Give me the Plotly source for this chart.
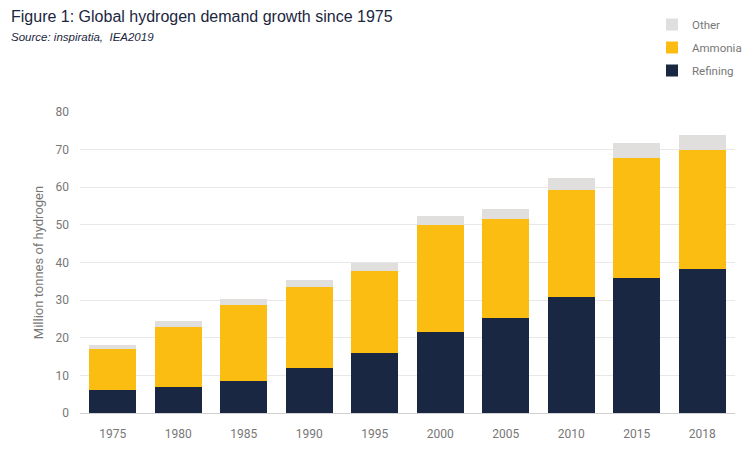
import plotly.graph_objects as go

years = ["1975", "1980", "1985", "1990", "1995", "2000", "2005", "2010", "2015", "2018"]
refining = [6.2, 6.9, 8.5, 12.0, 15.9, 21.4, 25.2, 30.9, 36.0, 38.3]
ammonia = [10.8, 16.0, 20.1, 21.5, 21.9, 28.6, 26.3, 28.5, 31.9, 31.5]
other = [1.1, 1.6, 1.8, 1.8, 2.1, 2.4, 2.6, 3.1, 3.9, 4.2]
y_ticks = [0, 10, 20, 30, 40, 50, 60, 70, 80]

# page is rendered with an 8px body margin; size the figure so it fills the window
OFF = 8
W, H = 750 - OFF, 450 - OFF
L, R, T, B = 80 - OFF, 15, 112 - OFF, 37
pw = W - L - R
ph = H - T - B

def px_x(x):  # page pixel -> paper coord
    return (x - OFF - L) / pw

def px_y(y):
    return 1 + (T - (y - OFF)) / ph

fig = go.Figure()
fig.add_trace(go.Bar(x=years, y=refining, name="Refining", legendgroup="r", legendrank=3,
                     marker_color="#1a2743", marker_line_width=0))
fig.add_trace(go.Bar(x=years, y=ammonia, name="Ammonia", legendgroup="a", legendrank=2,
                     marker_color="#fcbd12", marker_line_width=0))
fig.add_trace(go.Bar(x=years, y=other, name="Other", legendgroup="o", legendrank=1,
                     marker_color="#e1dfdd", marker_line_width=0))

fig.update_layout(
    width=W, height=H,
    barmode="stack", bargap=0.28,
    plot_bgcolor="white", paper_bgcolor="white",
    margin=dict(l=L, r=R, t=T, b=B, autoexpand=False),
    font=dict(family="Roboto", color="#777777", size=12),
    showlegend=True,
    legend=dict(x=px_x(652), y=px_y(10), xanchor="left", yanchor="top",
                traceorder="grouped", tracegroupgap=4,
                font=dict(family="Roboto", size=11.5, color="#777777")),
    annotations=[
        dict(text="Figure 1: Global hydrogen demand growth since 1975",
             x=px_x(9), y=px_y(16), xref="paper", yref="paper", showarrow=False,
             xanchor="left", yanchor="middle",
             font=dict(family="Liberation Sans", size=16, color="#1b2640")),
        dict(text="<i>Source: inspiratia,  IEA2019</i>",
             x=px_x(9), y=px_y(37), xref="paper", yref="paper", showarrow=False,
             xanchor="left", yanchor="middle",
             font=dict(family="Liberation Sans", size=11.5, color="#1b2640")),
    ],
)

fig.update_xaxes(showgrid=False, showline=False, ticks="", ticklabelstandoff=12,
                 tickfont=dict(family="Roboto", size=12, color="#777777"))
fig.update_yaxes(range=[0, 80], tickvals=y_ticks, showgrid=True, gridcolor="#e8e8e8", gridwidth=1,
                 zeroline=True, zerolinecolor="#d0d0d0", zerolinewidth=1,
                 ticks="", ticklabelstandoff=10,
                 title=dict(text="Million tonnes of hydrogen", standoff=8,
                            font=dict(family="Roboto", size=13, color="#777777")),
                 tickfont=dict(family="Roboto", size=12, color="#777777"))

fig.write_html("out.html")
